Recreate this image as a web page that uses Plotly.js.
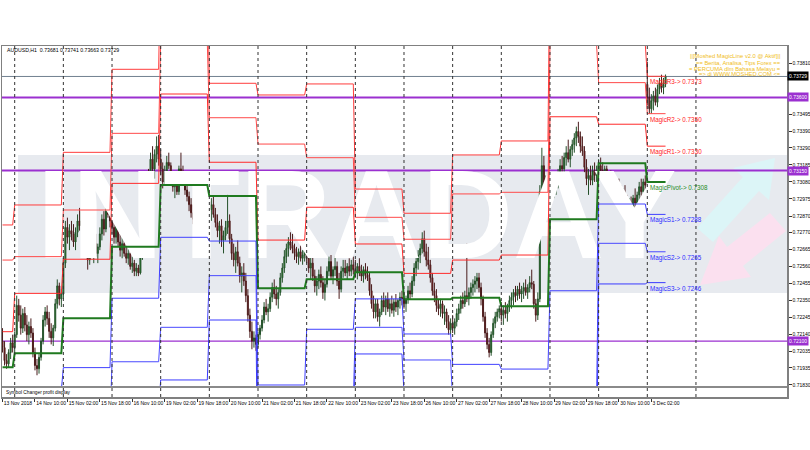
<!DOCTYPE html>
<html><head><meta charset="utf-8">
<script src="https://cdn.plot.ly/plotly-3.0.1.min.js"></script>
<style>html,body{margin:0;padding:0;background:#fff}#chart{width:810px;height:450px}</style>
</head><body><div id="chart"></div>
<script>
const symbolName = "AUDUSD,H1";
// hourly bars, 13 Nov 18:00 .. 3 Dec 09:00 (per day chunks)
const openP = [
.7210,.7206,.7198,.7196,.7203,.7209,
.7206,.7214,.7232,.7226,.7218,.7227,.7220,.7214,.7219,.7215,.7203,.7195,.7193,.7200,.7210,.7223,.7228,.7224,.7216,.7212,.7218,.7233,.7244,.7236,
.7239,.7258,.7280,.7274,.7278,.7276,.7271,.7277,.7284,.7281,.7290,.7278,.7266,.7260,.7267,.7265,.7270,.7264,.7268,.7276,.7285,.7279,.7290,.7288,
.7284,.7280,.7274,.7281,.7271,.7266,.7270,.7264,.7261,.7264,.7256,.7258,.7253,.7255,.7252,.7262,.7281,.7296,.7307,.7304,.7322,.7316,.7325,.7330,
.7322,.7316,.7308,.7314,.7320,.7318,.7310,.7305,.7308,.7302,.7316,.7314,.7308,.7303,.7299,.7294,.7289,.7285,.7288,.7282,.7290,.7293,.7291,.7294,
.7296,.7291,.7294,.7288,.7283,.7278,.7281,.7272,.7275,.7280,.7284,.7273,.7264,.7260,.7265,.7258,.7250,.7252,.7247,.7238,.7226,.7216,.7210,.7212,
.7208,.7214,.7218,.7223,.7231,.7228,.7230,.7237,.7243,.7239,.7236,.7240,.7249,.7255,.7262,.7267,.7271,.7269,.7267,.7264,.7262,.7265,.7261,.7263,
.7266,.7261,.7255,.7258,.7250,.7244,.7247,.7251,.7246,.7240,.7245,.7253,.7259,.7250,.7254,.7256,.7247,.7242,.7253,.7255,.7252,.7256,.7253,.7257,
.7254,.7252,.7256,.7253,.7250,.7254,.7251,.7249,.7241,.7233,.7228,.7233,.7225,.7228,.7235,.7231,.7236,.7230,.7233,.7229,.7234,.7231,.7235,.7237,
.7236,.7233,.7236,.7241,.7239,.7247,.7255,.7259,.7263,.7267,.7273,.7265,.7260,.7257,.7249,.7241,.7238,.7232,.7230,.7233,.7227,.7228,.7222,.7217,
.7221,.7218,.7222,.7227,.7230,.7235,.7233,.7238,.7236,.7240,.7243,.7245,.7247,.7249,.7243,.7236,.7225,.7215,.7208,.7203,.7214,.7221,.7225,.7228,
.7230,.7226,.7229,.7227,.7231,.7235,.7237,.7240,.7238,.7242,.7239,.7241,.7243,.7240,.7243,.7246,.7245,.7233,.7226,.7236,.7302,.7318,.7300,.7306,
.7299,.7306,.7303,.7305,.7308,.7313,.7318,.7316,.7323,.7326,.7322,.7328,.7331,.7335,.7339,.7336,.7330,.7327,.7317,.7310,.7312,.7309,.7315,.7312,
.7314,.7318,.7315,.7312,.7316,.7309,.7311,.7306,.7309,.7303,.7305,.7302,.7297,.7301,.7296,.7292,.7295,.7290,.7298,.7295,.7300,.7305,.7302,.7308,
.7368,.7360,.7353,.7358,.7361,.7357,.7365,.7369,.7366,.73681];
const highP = [
.7218,.7210,.7202,.7205,.7212,.7214,
.7216,.7238,.7236,.7232,.7230,.7231,.7226,.7222,.7224,.7218,.7206,.7199,.7202,.7212,.7226,.7231,.7232,.7228,.7221,.7220,.7236,.7248,.7246,.7242,
.7262,.7284,.7286,.7282,.7284,.7282,.7280,.7288,.7292,.7299,.7294,.7282,.7272,.7270,.7274,.7272,.7276,.7270,.7280,.7288,.7290,.7294,.7297,.7292,
.7290,.7286,.7284,.7285,.7276,.7274,.7275,.7270,.7268,.7266,.7262,.7260,.7258,.7257,.7264,.7284,.7300,.7310,.7316,.7326,.7330,.7328,.7336,.7337,
.7328,.7320,.7318,.7324,.7326,.7320,.7314,.7310,.7312,.7318,.7326,.7318,.7312,.7308,.7302,.7298,.7294,.7292,.7290,.7292,.7296,.7298,.7296,.7300,
.7302,.7298,.7299,.7292,.7288,.7284,.7285,.7278,.7284,.7300,.7288,.7276,.7270,.7268,.7272,.7262,.7256,.7258,.7252,.7242,.7230,.7222,.7216,.7214,
.7216,.7220,.7226,.7234,.7236,.7233,.7240,.7246,.7248,.7244,.7242,.7252,.7258,.7266,.7270,.7274,.7277,.7276,.7270,.7268,.7267,.7269,.7266,.7269,
.7272,.7266,.7262,.7263,.7254,.7250,.7254,.7256,.7250,.7248,.7256,.7262,.7263,.7256,.7262,.7259,.7252,.7256,.7260,.7260,.7258,.7261,.7260,.7262,
.7260,.7258,.7261,.7257,.7256,.7258,.7256,.7252,.7245,.7238,.7236,.7236,.7230,.7238,.7240,.7238,.7240,.7236,.7238,.7236,.7239,.7236,.7240,.7241,
.7240,.7238,.7244,.7246,.7250,.7258,.7262,.7266,.7270,.7277,.7278,.7270,.7268,.7260,.7252,.7246,.7242,.7236,.7236,.7235,.7232,.7230,.7226,.7224,
.7226,.7224,.7230,.7233,.7238,.7240,.7241,.7270,.7243,.7246,.7248,.7250,.7252,.7252,.7246,.7238,.7228,.7218,.7212,.7216,.7224,.7228,.7230,.7232,
.7234,.7232,.7234,.7233,.7238,.7240,.7242,.7244,.7244,.7246,.7244,.7246,.7248,.7245,.7250,.7254,.7247,.7236,.7240,.7306,.7329,.7324,.7312,.7311,
.7310,.7312,.7308,.7310,.7316,.7322,.7324,.7326,.7330,.7334,.7330,.7334,.7338,.7342,.7345,.7339,.7336,.7330,.7322,.7316,.7318,.7318,.7320,.7318,
.7322,.7323,.7320,.7318,.7318,.7314,.7315,.7312,.7312,.7308,.7310,.7306,.7304,.7306,.7300,.7298,.7299,.7300,.7304,.7302,.7308,.7310,.7310,.7312,
.7382,.7366,.7362,.7364,.7366,.7368,.7372,.7374,.7372,.73741];
const lowP = [
.7203,.7195,.7193,.7194,.7199,.7203,
.7203,.7212,.7222,.7214,.7215,.7216,.7210,.7208,.7212,.7200,.7192,.7189,.7190,.7198,.7208,.7219,.7220,.7212,.7208,.7207,.7216,.7230,.7232,.7231,
.7236,.7255,.7270,.7266,.7272,.7268,.7266,.7274,.7278,.7279,.7275,.7262,.7254,.7257,.7262,.7258,.7262,.7258,.7266,.7272,.7275,.7277,.7286,.7280,
.7276,.7270,.7270,.7268,.7262,.7261,.7262,.7258,.7257,.7254,.7252,.7250,.7250,.7250,.7251,.7260,.7278,.7292,.7300,.7302,.7312,.7310,.7320,.7318,
.7312,.7304,.7306,.7310,.7316,.7308,.7302,.7298,.7300,.7300,.7312,.7306,.7300,.7296,.7290,.7286,.7282,.7280,.7278,.7280,.7286,.7289,.7288,.7290,
.7288,.7284,.7286,.7280,.7274,.7270,.7268,.7264,.7272,.7276,.7270,.7260,.7256,.7252,.7256,.7246,.7240,.7244,.7234,.7222,.7212,.7205,.7206,.7204,
.7206,.7211,.7216,.7221,.7226,.7222,.7228,.7234,.7236,.7232,.7230,.7238,.7246,.7252,.7258,.7262,.7266,.7264,.7260,.7258,.7257,.7259,.7257,.7259,
.7258,.7252,.7248,.7247,.7240,.7238,.7242,.7243,.7236,.7235,.7243,.7250,.7248,.7245,.7250,.7244,.7236,.7240,.7249,.7250,.7248,.7250,.7250,.7251,
.7249,.7248,.7250,.7247,.7246,.7248,.7247,.7238,.7230,.7224,.7224,.7222,.7219,.7226,.7228,.7226,.7228,.7225,.7227,.7225,.7228,.7226,.7230,.7232,
.7230,.7228,.7233,.7236,.7237,.7244,.7250,.7254,.7258,.7264,.7262,.7256,.7254,.7246,.7238,.7234,.7228,.7226,.7225,.7224,.7220,.7218,.7214,.7214,
.7215,.7214,.7219,.7223,.7227,.7230,.7231,.7234,.7232,.7236,.7238,.7240,.7242,.7240,.7232,.7222,.7212,.7205,.7200,.7201,.7212,.7218,.7222,.7224,
.7222,.7220,.7224,.7222,.7228,.7230,.7232,.7234,.7235,.7236,.7234,.7236,.7238,.7236,.7240,.7242,.7230,.7222,.7223,.7234,.7296,.7296,.7294,.7296,
.7296,.7300,.7298,.7300,.7304,.7310,.7312,.7313,.7318,.7320,.7317,.7324,.7326,.7330,.7332,.7326,.7324,.7314,.7306,.7300,.7306,.7306,.7308,.7308,
.7310,.7312,.7309,.7308,.7306,.7304,.7303,.7302,.7300,.7298,.7300,.7294,.7292,.7294,.7288,.7286,.7285,.7288,.7292,.7291,.7296,.7298,.7300,.7302,
.7355,.7350,.7350,.7352,.7355,.7354,.7362,.7363,.7362,.73663];
const closeP = [
.7206,.7198,.7196,.7203,.7209,.7206,
.7214,.7232,.7226,.7218,.7227,.7220,.7214,.7219,.7215,.7203,.7195,.7193,.7200,.7210,.7223,.7228,.7224,.7216,.7212,.7218,.7233,.7244,.7236,.7239,
.7258,.7280,.7274,.7278,.7276,.7271,.7277,.7284,.7281,.7290,.7278,.7266,.7260,.7267,.7265,.7270,.7264,.7268,.7276,.7285,.7279,.7290,.7288,.7284,
.7280,.7274,.7281,.7271,.7266,.7270,.7264,.7261,.7264,.7256,.7258,.7253,.7255,.7252,.7262,.7281,.7296,.7307,.7304,.7322,.7316,.7325,.7330,.7322,
.7316,.7308,.7314,.7320,.7318,.7310,.7305,.7308,.7302,.7316,.7314,.7308,.7303,.7299,.7294,.7289,.7285,.7288,.7282,.7290,.7293,.7291,.7294,.7296,
.7291,.7294,.7288,.7283,.7278,.7281,.7272,.7275,.7280,.7284,.7273,.7264,.7260,.7265,.7258,.7250,.7252,.7247,.7238,.7226,.7216,.7210,.7212,.7208,
.7214,.7218,.7223,.7231,.7228,.7230,.7237,.7243,.7239,.7236,.7240,.7249,.7255,.7262,.7267,.7271,.7269,.7267,.7264,.7262,.7265,.7261,.7263,.7266,
.7261,.7255,.7258,.7250,.7244,.7247,.7251,.7246,.7240,.7245,.7253,.7259,.7250,.7254,.7256,.7247,.7242,.7253,.7255,.7252,.7256,.7253,.7257,.7254,
.7252,.7256,.7253,.7250,.7254,.7251,.7249,.7241,.7233,.7228,.7233,.7225,.7228,.7235,.7231,.7236,.7230,.7233,.7229,.7234,.7231,.7235,.7237,.7236,
.7233,.7236,.7241,.7239,.7247,.7255,.7259,.7263,.7267,.7273,.7265,.7260,.7257,.7249,.7241,.7238,.7232,.7230,.7233,.7227,.7228,.7222,.7217,.7221,
.7218,.7222,.7227,.7230,.7235,.7233,.7238,.7236,.7240,.7243,.7245,.7247,.7249,.7243,.7236,.7225,.7215,.7208,.7203,.7214,.7221,.7225,.7228,.7230,
.7226,.7229,.7227,.7231,.7235,.7237,.7240,.7238,.7242,.7239,.7241,.7243,.7240,.7243,.7246,.7245,.7233,.7226,.7236,.7302,.7318,.7300,.7306,.7299,
.7306,.7303,.7305,.7308,.7313,.7318,.7316,.7323,.7326,.7322,.7328,.7331,.7335,.7339,.7336,.7330,.7327,.7317,.7310,.7312,.7309,.7315,.7312,.7314,
.7318,.7315,.7312,.7316,.7309,.7311,.7306,.7309,.7303,.7305,.7302,.7297,.7301,.7296,.7292,.7295,.7290,.7298,.7295,.7300,.7305,.7302,.7308,.7306,
.7360,.7353,.7358,.7361,.7357,.7365,.7369,.7366,.7368,.73729];

// daily pivot levels (first bar index of each day)
const dayStart = [0,6,30,54,78,102,126,150,174,198,222,246,270,294,318];
const levR3 = [0.72815,0.72938,0.73262,0.73773,0.74496,0.73687,0.73615,0.73683,0.73036,0.72887,0.73246,0.73332,0.74551,0.73929,0.7373];
const levR2 = [0.72599,0.72620,0.72907,0.73379,0.73937,0.73475,0.73313,0.73229,0.72862,0.72727,0.73006,0.73016,0.73921,0.73691,0.7350];
const levR1 = [0.72158,0.72394,0.72604,0.73071,0.73621,0.73201,0.72722,0.72924,0.72698,0.72517,0.72599,0.72630,0.73481,0.73435,0.7330];
const levPV = [0.71939,0.72025,0.72241,0.72681,0.73061,0.72993,0.72425,0.72481,0.72524,0.72357,0.72367,0.72314,0.72850,0.73195,0.7308];
const levS1 = [0.71498,0.71799,0.71937,0.72364,0.72739,0.72716,0.71830,0.72173,0.72360,0.72144,0.71957,0.71928,0.72410,0.72944,0.7288];
const levS2 = [0.71278,0.71430,0.71574,0.71973,0.72185,0.72503,0.71537,0.71732,0.72185,0.71984,0.71732,0.71613,0.71781,0.72702,0.7265];
const levS3 = [0.71130,0.71205,0.71270,0.71676,0.71861,0.72230,0.70946,0.71427,0.72021,0.71781,0.71333,0.71227,0.71339,0.72452,0.7246];
const levelNames = ["MagicR3","MagicR2","MagicR1","MagicPivot","MagicS1","MagicS2","MagicS3"];

const hLevels = [0.73600, 0.73150, 0.72100];
const hWidths = [2, 2, 1.2];

const xTickIdx = [0,16,32,48,64,80,96,112,128,144,160,176,192,208,224,240,256,272,288,304,320];
const xTickText = ["13 Nov 2018","14 Nov 10:00","15 Nov 02:00","15 Nov 18:00","16 Nov 10:00","19 Nov 02:00","19 Nov 18:00","20 Nov 10:00","21 Nov 02:00","21 Nov 18:00","22 Nov 10:00","23 Nov 02:00","23 Nov 18:00","26 Nov 10:00","27 Nov 02:00","27 Nov 18:00","28 Nov 10:00","29 Nov 02:00","29 Nov 18:00","30 Nov 10:00","3 Dec 02:00"];
const yTickVals = [0.73810,0.73495,0.73390,0.73290,0.73185,0.73080,0.72975,0.72870,0.72770,0.72665,0.72560,0.72455,0.72350,0.72245,0.72140,0.72035,0.71935,0.71830];

const infoLines = ["||[Moshed MagicLine v2.0 @ Aktif]||","== Berita, Analisa, Tips Forex ==","= PERCUMA dlm Bahasa Melayu =","=> di WWW.MOSHED.COM <="];

// ---------- build ----------
const N = Math.min(openP.length, highP.length, lowP.length, closeP.length);
const idx = Array.from({length:N}, (_, i) => i);
function perBar(levels){
  const out = [];
  for (let i = 0; i < N; i++){
    let d = 0;
    while (d + 1 < dayStart.length && dayStart[d+1] <= i) d++;
    out.push(levels[d]);
  }
  return out;
}
const xr = [-0.26, 386.9];
const yr = [0.717561, 0.739165];
const PW = 785, PH = 351; // plot area px
const px = p => (p - 2) / PW;         // pixel x -> paper
const py = p => (397 - p) / PH;       // pixel y -> paper

const traces = [];
// watermark text (drawn first so candles lie over it)
traces.push({type:'scatter', mode:'text', x:[xr[0] + 0.452*(xr[1]-xr[0])], y:[yr[0] + 0.485*(yr[1]-yr[0])],
  text:['INTRADAY'], textposition:'middle center', hoverinfo:'skip', showlegend:false,
  textfont:{family:'Liberation Sans, Arial, sans-serif', size:126, color:'#ffffff', weight:'bold'}});

traces.push({type:'candlestick', x:idx, open:openP.slice(0,N), high:highP.slice(0,N), low:lowP.slice(0,N), close:closeP.slice(0,N),
  increasing:{line:{color:'#24502a', width:1}, fillcolor:'#1f9a1f'},
  decreasing:{line:{color:'#4a1c1c', width:1}, fillcolor:'#a01818'},
  whiskerwidth:0, hoverinfo:'skip', showlegend:false});

const levels = [levR3, levR2, levR1, levPV, levS1, levS2, levS3];
const levColors = ['#ff3c3c','#ff4a4a','#ff2a2a','#1f7a1f','#4040ff','#4a4aff','#3a3aff'];
const levWidths = [1,1,1,2,1,1,1];
levels.forEach((lv, k) => {
  traces.push({type:'scatter', mode:'lines', x:idx, y:perBar(lv), hoverinfo:'skip', showlegend:false,
    line:{color:levColors[k], width:levWidths[k]}});
});

const shapes = [];
// watermark band
shapes.push({type:'rect', xref:'paper', yref:'paper', x0:px(18), x1:1, y0:py(293), y1:py(155), fillcolor:'#e7eaef', line:{width:0}, layer:'below'});
// logo arrows
function pathFrom(pts){ return 'M ' + pts.map(p => px(p[0]).toFixed(4)+' '+py(p[1]).toFixed(4)).join(' L ') + ' Z'; }
shapes.push({type:'path', xref:'paper', yref:'paper', layer:'below', fillcolor:'#dcf5f7', line:{width:0},
  path: pathFrom([[697,228],[743,177],[733,168],[775,158],[769,200],[759,191],[713,242]])});
shapes.push({type:'path', xref:'paper', yref:'paper', layer:'below', fillcolor:'#fbe0ef', line:{width:0},
  path: pathFrom([[786,231],[743,266],[751,277],[700,285],[719,236],[727,247],[770,213]])});
// horizontal levels
hLevels.forEach((v, k) => shapes.push({type:'line', xref:'paper', x0:0, x1:1, y0:v, y1:v, line:{color:'#9b30d0', width:hWidths[k]}, layer:'below'}));
// current bid line
const lastClose = closeP[N-1];
shapes.push({type:'line', xref:'paper', x0:0, x1:1, y0:lastClose, y1:lastClose, line:{color:'#708090', width:1}, layer:'below'});
// bottom panel
shapes.push({type:'rect', xref:'paper', yref:'paper', x0:0, x1:1, y0:0, y1:py(387), fillcolor:'#ffffff', line:{width:0}, layer:'above'});
shapes.push({type:'line', xref:'paper', yref:'paper', x0:0, x1:1, y0:py(387), y1:py(387), line:{color:'#8a8a8a', width:2}, layer:'above'});
// day separators
const seps = dayStart.slice(1).concat([dayStart[dayStart.length-1] + 24]);
seps.forEach(s => shapes.push({type:'line', x0:s, x1:s, yref:'paper', y0:0, y1:1, line:{color:'#333', width:1, dash:'dot'}, layer:'above'}));

const annotations = [];
const f = 'Liberation Sans, Arial, sans-serif';
annotations.push({xref:'paper', yref:'paper', x:px(5), y:py(50), xanchor:'left', yanchor:'middle', showarrow:false,
  text: symbolName + '  ' + [openP[N-1], highP[N-1], lowP[N-1], closeP[N-1]].map(v => v.toFixed(5)).join(' '),
  font:{family:f, size:5.2, color:'#000'}});
const infoY = [55.7, 62.5, 68.5, 74.3];
infoLines.forEach((t, k) => annotations.push({xref:'paper', yref:'paper', x:px(783), y:py(infoY[k]), xanchor:'right', yanchor:'middle', showarrow:false,
  text:t, font:{family:f, size:5.8, color:'#f0bd1a'}}));
// pivot labels for the current day
const lastDay = dayStart.length - 1;
const labColors = ['#ff1a1a','#ff1a1a','#ff1a1a','#1f8a1f','#2a2aff','#2a2aff','#2a2aff'];
levels.forEach((lv, k) => annotations.push({x:dayStart[lastDay], y:lv[lastDay], xanchor:'left', yanchor:'top', xshift:1, showarrow:false,
  text: levelNames[k] + '-> ' + lv[lastDay].toFixed(4), font:{family:f, size:6.3, color:labColors[k]}}));
// right-axis price boxes
annotations.push({xref:'paper', x:1, y:lastClose, xanchor:'left', yanchor:'middle', showarrow:false, text:lastClose.toFixed(5),
  bgcolor:'#000', borderpad:1, font:{family:f, size:5, color:'#fff'}});
hLevels.forEach(v => annotations.push({xref:'paper', x:1, y:v, xanchor:'left', yanchor:'middle', showarrow:false, text:v.toFixed(5),
  bgcolor:'#9b30d0', borderpad:1, font:{family:f, size:5, color:'#fff'}}));
annotations.push({xref:'paper', yref:'paper', x:px(4), y:py(392), xanchor:'left', yanchor:'middle', showarrow:false,
  text:'Symbol Changer profit display', font:{family:f, size:4.8, color:'#000'}});

const layout = {
  width:810, height:450,
  margin:{l:2, r:23, t:46, b:53, pad:0},
  paper_bgcolor:'#fff', plot_bgcolor:'#fff',
  showlegend:false,
  font:{family:f, size:5, color:'#000'},
  xaxis:{type:'linear', range:xr, showgrid:false, zeroline:false, showline:true, mirror:true, linecolor:'#808080', linewidth:1.5,
    ticks:'outside', ticklen:3, tickcolor:'#333', tickvals:xTickIdx, ticktext:xTickText, ticklabelposition:'outside right',
    tickangle:0, tickfont:{family:f, size:5, color:'#000'}, rangeslider:{visible:false}, fixedrange:true},
  yaxis:{range:yr, side:'right', showgrid:false, zeroline:false, showline:true, mirror:true, linecolor:'#808080', linewidth:1.5,
    ticks:'outside', ticklen:3, tickcolor:'#333', tickvals:yTickVals, ticktext:yTickVals.map(v => v.toFixed(5)),
    tickfont:{family:f, size:5, color:'#000'}, fixedrange:true},
  shapes, annotations
};
Plotly.newPlot('chart', traces, layout, {displayModeBar:false, staticPlot:true});
</script></body></html>
